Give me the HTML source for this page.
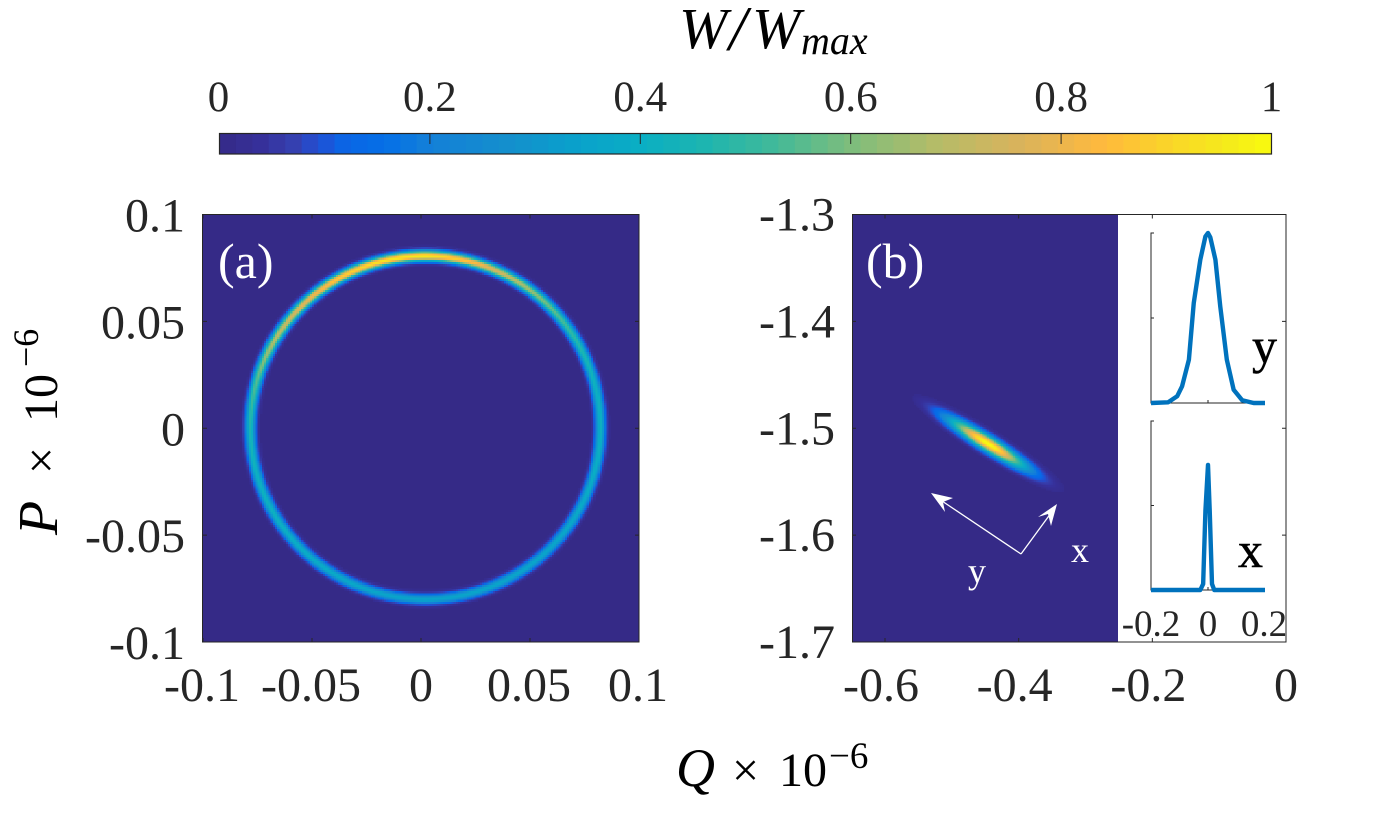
<!DOCTYPE html>
<html lang="en">
<head>
<meta charset="utf-8">
<title>Wigner distribution</title>
<style>
html,body{margin:0;padding:0;background:#fff;}
svg{display:block;}
text{font-family:"Liberation Serif","DejaVu Serif",serif;}
.t{fill:#262626;font-size:48px;}
.cb{fill:#262626;font-size:43px;text-anchor:middle;}
.m{fill:#000;font-style:italic;}
.u{fill:#000;font-style:normal;}
</style>
</head>
<body>
<svg id="fig" xmlns="http://www.w3.org/2000/svg" width="1396" height="821" viewBox="0 0 1396 821">
  <rect x="0" y="0" width="1396" height="821" fill="#fff"/>
  <text class="m" y="48" font-size="58"><tspan x="679">W</tspan><tspan x="729" y="50" font-size="64">/</tspan><tspan x="752" y="48">W</tspan><tspan x="801" y="54" font-size="40">max</tspan></text>
  <g id="colorbar"></g>
  <g id="panelA"></g>
  <g id="panelB"></g>
  <g id="insets"></g>
  <text class="m" transform="translate(676 786)" y="0" font-size="54"><tspan x="0">Q</tspan><tspan class="u" x="56" font-size="48">×</tspan><tspan class="u" x="103" font-size="48">10</tspan><tspan class="u" x="153" y="-18" font-size="37">−6</tspan></text>
  <text class="m" transform="translate(57 535) rotate(-90)" y="0" font-size="56"><tspan x="0">P</tspan><tspan class="u" x="61" font-size="48">×</tspan><tspan class="u" x="113" font-size="48">10</tspan><tspan class="u" x="168" y="-19" font-size="36">−6</tspan></text>
</svg>
<script>
// ---- colour map ----
const cmapPositions = [0, 0.04, 0.07, 0.095, 0.12, 0.16, 0.20, 0.28, 0.33, 0.40, 0.46, 0.52, 0.60, 0.68, 0.76, 0.84, 0.90, 0.96, 1];
const cmapColors = ['#352a87','#36309a','#3540b0','#2050d5','#0a66e6','#0570e6','#1480d8','#1490cc','#0a9fcc','#0aaec4','#1db5b0','#3cb99c','#7dbd7c','#b4bc68','#d9b35c','#ffb93d','#fad42a','#f5ec1a','#f9fb0e'];
// ---- colour bar ----
const colorbarTicks = [0, 0.2, 0.4, 0.6, 0.8, 1];
const colorbarLabels = ['0', '0.2', '0.4', '0.6', '0.8', '1'];
const colorbarSteps = 64;
// ---- panel (a) ----
const panelAXTicks = [-0.1, -0.05, 0, 0.05, 0.1];
const panelAYTicks = [-0.1, -0.05, 0, 0.05, 0.1];
const panelAXLabels = ['-0.1', '-0.05', '0', '0.05', '0.1'];
const panelAYLabels = ['-0.1', '-0.05', '0', '0.05', '0.1'];
const ringCenterQ = [0.002];
const ringCenterP = [0.0005];
const ringRadius = [0.0803];
const ringWidth = [0.00165];
// peak W/Wmax around the ring, every 15 degrees counter-clockwise from +Q
const ringPeak = [0.42,0.42,0.48,0.58,0.70,0.85,0.96,0.94,0.88,0.78,0.68,0.55,0.46,0.42,0.42,0.40,0.38,0.36,0.36,0.36,0.36,0.36,0.38,0.40];
// ---- panel (b) ----
const panelBXTicks = [-0.6, -0.4, -0.2, 0];
const panelBYTicks = [-1.3, -1.4, -1.5, -1.6, -1.7];
const panelBXLabels = ['-0.6', '-0.4', '-0.2', '0'];
const panelBYLabels = ['-1.3', '-1.4', '-1.5', '-1.6', '-1.7'];
const blobCenterQ = [-0.446];
const blobCenterP = [-1.514];
const blobSigmaLong = [0.046];
const blobSigmaShort = [0.0075];
const blobTiltDeg = [-32];
const blobPeak = [1];
// ---- insets ----
const insetTickValues = [-0.2, 0, 0.2];
const insetTickLabels = ['-0.2', '0', '0.2'];
const profileYCoord = [-0.2,-0.14,-0.108,-0.091,-0.067,-0.05,-0.027,-0.009,0,0.008,0.026,0.043,0.066,0.09,0.12,0.16,0.2];
const profileYValue = [0,0.004,0.04,0.098,0.255,0.588,0.843,0.98,1,0.975,0.843,0.568,0.255,0.078,0.016,0,0];
const profileXCoord = [-0.2,-0.027,-0.017,-0.009,0,0.006,0.014,0.022,0.2];
const profileXValue = [0,0,0.036,0.47,0.74,0.47,0.036,0,0];

const NS = 'http://www.w3.org/2000/svg';
function mk(tag, attrs, parent, txt) {
  const e = document.createElementNS(NS, tag);
  for (const k in attrs) e.setAttribute(k, attrs[k]);
  if (txt !== undefined) e.textContent = txt;
  parent.appendChild(e);
  return e;
}
function hex(c) { return [1,3,5].map(i => parseInt(c.substr(i,2),16)); }
function cmap(v) {
  v = Math.max(0, Math.min(1, v));
  let i = 0;
  while (i < cmapPositions.length - 2 && v > cmapPositions[i+1]) i++;
  const t = (v - cmapPositions[i]) / (cmapPositions[i+1] - cmapPositions[i]);
  const a = hex(cmapColors[i]), b = hex(cmapColors[i+1]);
  return 'rgb(' + a.map((x,j) => Math.round(x + (b[j]-x)*t)).join(',') + ')';
}
function linear(d0, d1, r0, r1) { return v => r0 + (v-d0)/(d1-d0)*(r1-r0); }
const INK = '#262626';

// ---- colour bar drawing ----
(function () {
  const g = document.getElementById('colorbar');
  const x = linear(0, 1, 219.5, 1271.5);
  for (let i = 0; i < colorbarSteps; i++) {
    const cell = mk('rect', {x: x(i/colorbarSteps), y: 133, width: x((i+1)/colorbarSteps)-x(i/colorbarSteps)+0.4, height: 21, fill: cmap((i+0.5)/colorbarSteps)}, g);
    
    
  }
  const frame = mk('rect', {x: 219.5, y: 133.5, width: 1052, height: 20.5, fill: 'none', stroke: INK, 'stroke-width': 1.2}, g);
  
  
  colorbarTicks.forEach((v, i) => {
    if (v > 0 && v < 1) {
      const tk = mk('line', {x1: x(v), x2: x(v), y1: 133, y2: 144, stroke: INK, 'stroke-width': 1}, g);
      
      
    }
    const lb = mk('text', {class: 'cb', x: x(v) - (v === 0 ? 1 : 0), y: 111}, g, colorbarLabels[i]);
    
    
  });
})();

// ---- panel (a) drawing ----
(function () {
  const g = document.getElementById('panelA');
  const L = 203, R = 639, T = 214.5, B = 642;
  const x = linear(-0.1, 0.1, L, R);
  const y = linear(-0.1, 0.1, B, T);
  const bg = mk('rect', {x: L-1, y: T, width: R-L+1, height: B-T, fill: cmapColors[0]}, g);
  
  
  const cells = mk('g', {'shape-rendering': 'crispEdges'}, g);
  
  
  const n = 200, dq = 0.2 / n;
  for (let i = 0; i < n; i++) for (let j = 0; j < n; j++) {
    const q = -0.1 + (i+0.5)*dq, p = -0.1 + (j+0.5)*dq;
    const dx = q - ringCenterQ[0], dy = p - ringCenterP[0];
    const r = Math.hypot(dx, dy);
    const dr = (r - ringRadius[0]) / ringWidth[0];
    if (Math.abs(dr) > 3) continue;
    let ang = Math.atan2(dy, dx) * 180 / Math.PI; if (ang < 0) ang += 360;
    const k = ang / 15, k0 = Math.floor(k) % ringPeak.length, k1 = (k0+1) % ringPeak.length, f = k - Math.floor(k);
    const peak = ringPeak[k0] + (ringPeak[k1]-ringPeak[k0])*f;
    const v = peak * Math.exp(-dr*dr/2);
    if (v < 0.012) continue;
    const cell = mk('rect', {x: x(q-dq/2).toFixed(2), y: y(p+dq/2).toFixed(2), width: 2.6, height: 2.6, fill: cmap(v)}, cells);
    
    
  }
  const frame = mk('rect', {x: L-0.5, y: T, width: R-L+0.5, height: B-T, fill: 'none', stroke: INK, 'stroke-width': 1}, g);
  
  
  panelAXTicks.forEach((v, i) => {
    [[T, T+4], [B, B-4]].forEach(s => {
      const tk = mk('line', {x1: x(v), x2: x(v), y1: s[0], y2: s[1], stroke: INK, 'stroke-width': 1}, g);
      
      
    });
    const lb = mk('text', {class: 't', x: x(v) - (v === 0 ? 0 : 1), y: 701, 'text-anchor': 'middle'}, g, panelAXLabels[i]);
    
    
  });
  panelAYTicks.forEach((v, i) => {
    [[L, L+4], [R, R-4]].forEach(s => {
      const tk = mk('line', {x1: s[0], x2: s[1], y1: y(v), y2: y(v), stroke: INK, 'stroke-width': 1}, g);
      
      
    });
    const lb = mk('text', {class: 't', x: 185, y: y(v) + 17, 'text-anchor': 'end'}, g, panelAYLabels[i]);
    
    
  });
  const tag = mk('text', {x: 218, y: 278, 'font-size': 50, fill: '#fff'}, g, '(a)');
  
  
})();

// ---- panel (b) drawing ----
(function () {
  const g = document.getElementById('panelB');
  const L = 852, R = 1286, T = 214.5, B = 642, HR = 1118;
  const x = linear(-0.6, 0, 885, 1286);
  const y = linear(-1.7, -1.3, B, T);
  const bg = mk('rect', {x: L, y: T, width: HR-L, height: B-T, fill: cmapColors[0]}, g);
  
  
  const cells = mk('g', {'shape-rendering': 'crispEdges'}, g);
  
  
  const dq = 0.0026, dp = 0.0016;
  const sx = Math.abs(x(dq) - x(0)), sy = Math.abs(y(dp) - y(0));
  const th = blobTiltDeg[0] * Math.PI / 180, c = Math.cos(th), s = Math.sin(th);
  // offsets are measured in screen pixels and converted back to Q units, so the tilt is the on-screen tilt
  const qPerPx = 0.6 / (1286 - 885);
  for (let q = -0.65; q < -0.25; q += dq) for (let p = -1.7; p < -1.3; p += dp) {
    const ux = (x(q+dq/2) - x(blobCenterQ[0])) * qPerPx;
    const uy = -(y(p+dp/2) - y(blobCenterP[0])) * qPerPx;
    const a = (ux*c + uy*s) / blobSigmaLong[0];
    const b = (-ux*s + uy*c) / blobSigmaShort[0];
    const v = blobPeak[0] * Math.exp(-(a*a+b*b)/2);
    if (v < 0.015) continue;
    const cell = mk('rect', {x: x(q).toFixed(2), y: y(p+dp).toFixed(2), width: (sx+0.5).toFixed(2), height: (sy+0.5).toFixed(2), fill: cmap(v)}, cells);
    
    
  }
  const frame = mk('rect', {x: L+0.5, y: T, width: R-L-0.5, height: B-T, fill: 'none', stroke: INK, 'stroke-width': 1}, g);
  
  
  panelBXTicks.forEach((v, i) => {
    [[T, T+4], [B, B-4]].forEach(s2 => {
      const tk = mk('line', {x1: x(v), x2: x(v), y1: s2[0], y2: s2[1], stroke: INK, 'stroke-width': 1}, g);
      
      
    });
    const lb = mk('text', {class: 't', x: x(v) + (v === 0 ? 0 : -4), y: 701, 'text-anchor': 'middle'}, g, panelBXLabels[i]);
    
    
  });
  panelBYTicks.forEach((v, i) => {
    [[L, L+4], [R, R-4]].forEach(s2 => {
      const tk = mk('line', {x1: s2[0], x2: s2[1], y1: y(v), y2: y(v), stroke: INK, 'stroke-width': 1}, g);
      
      
    });
    const lb = mk('text', {class: 't', x: 835, y: y(v) + 16, 'text-anchor': 'end'}, g, panelBYLabels[i]);
    
    
  });
  const tag = mk('text', {x: 866, y: 278, 'font-size': 50, fill: '#fff'}, g, '(b)');
  
  
  // principal-axis arrows
  const arrowY = mk('line', {x1: 1021, y1: 554, x2: 942, y2: 501, stroke: '#fff', 'stroke-width': 1.3}, g);
  
  
  const headY = mk('polygon', {points: '931,493 953,498 943,502 945,512', fill: '#fff'}, g);
  
  
  const arrowX = mk('line', {x1: 1021, y1: 554, x2: 1051, y2: 513, stroke: '#fff', 'stroke-width': 1.3}, g);
  
  
  const headX = mk('polygon', {points: '1057,504 1051,526 1048,514 1038,517', fill: '#fff'}, g);
  
  
  const ly = mk('text', {x: 968, y: 583, 'font-size': 36, fill: '#fff'}, g, 'y');
  
  
  const lx = mk('text', {x: 1071, y: 562, 'font-size': 36, fill: '#fff'}, g, 'x');
  
  
})();

// ---- insets ----
(function () {
  const g = document.getElementById('insets');
  const x = linear(-0.2, 0.2, 1151, 1265);
  function inset(name, top, base, xs, ys, letter, lx, ly) {
    const y = linear(0, 1, base, top);
    const a1 = mk('path', {d: 'M' + (x(-0.2)+3) + ' ' + top + 'H' + x(-0.2) + 'V' + base + 'H' + x(0.2), fill: 'none', stroke: INK, 'stroke-width': 1}, g);
    
    
    const t1 = mk('line', {x1: x(-0.2), x2: x(-0.2)+3, y1: y(0.5), y2: y(0.5), stroke: INK, 'stroke-width': 1}, g);
    
    
    const t2 = mk('line', {x1: x(0), x2: x(0), y1: base, y2: base-3, stroke: INK, 'stroke-width': 1}, g);
    
    
    const d = xs.map((v, i) => (i ? 'L' : 'M') + x(v).toFixed(2) + ' ' + y(ys[i]).toFixed(2)).join('');
    const ln = mk('path', {d: d, fill: 'none', stroke: '#0072bd', 'stroke-width': 4.4, 'stroke-linejoin': 'round'}, g);
    
    
    const lt = mk('text', {x: lx, y: ly, 'font-size': 50, fill: '#000', stroke: '#000', 'stroke-width': 0.5}, g, letter);
    
    
  }
  inset('profile-y', 233, 403, profileYCoord, profileYValue, 'y', 1252, 363);
  inset('profile-x', 421, 590, profileXCoord, profileXValue, 'x', 1238, 567);
  insetTickValues.forEach((v, i) => {
    const lb = mk('text', {x: x(v) + (v > 0 ? -1 : 0), y: 636, 'font-size': 37, fill: INK, 'text-anchor': 'middle'}, g, insetTickLabels[i]);
    
    
  });
})();
</script>
</body>
</html>
